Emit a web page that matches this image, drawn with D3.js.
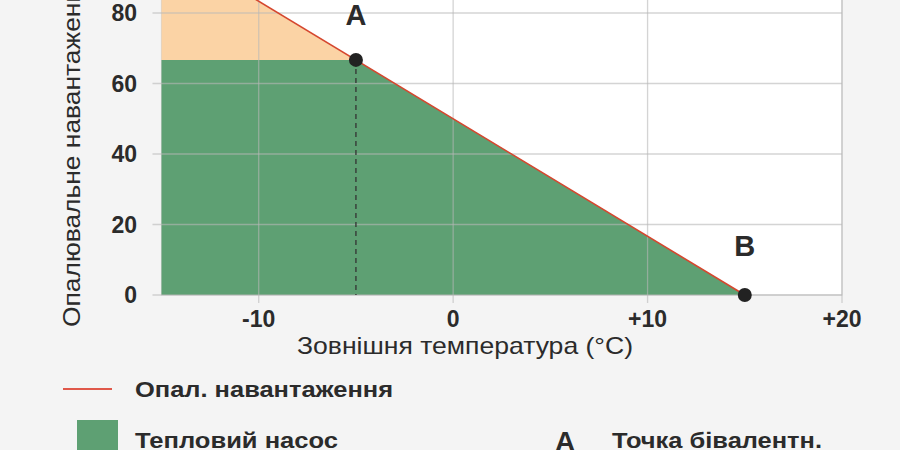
<!DOCTYPE html>
<html>
<head>
<meta charset="utf-8">
<script src="https://cdn.jsdelivr.net/npm/d3@7"></script>
<style>
  html, body { margin: 0; padding: 0; background: #f4f4f4; }
  svg { display: block; font-family: "Liberation Sans", Arial, sans-serif; }
</style>
</head>
<body>
<svg id="chart" width="900" height="450"></svg>
<script>
// ---- data ----
const xTicks = [-10, 0, 10, 20];
const xTickLabels = ["-10", "0", "+10", "+20"];
const yTicks = [0, 20, 40, 60, 80, 100];
const loadTemps = [-15, 15];
const loadValues = [100, 0];
const pumpTemps = [-15, -5, 15];
const pumpValues = [66.7, 66.7, 0];
const backupTemps = [-15, -5];
const backupUpper = [100, 66.7];
const backupLower = [66.7, 66.7];
const pointNames = ["A", "B"];
const pointTemps = [-5, 15];
const pointValues = [66.7, 0];
const xTitle = "Зовнішня температура (°C)";
const yTitle = "Опалювальне навантаження (%)";
const legendLabels = ["Опал. навантаження", "Тепловий насос", "Точка бівалентн."];

// ---- layout ----
const svg = d3.select("#chart");
const x = d3.scaleLinear().domain([-15, 20]).range([161.5, 842]);
const y = d3.scaleLinear().domain([0, 100]).range([295, -57.5]);
const txt = "#2b2b2b";
const green = "#5ea073", orange = "#fbd3a5", red = "#d5472f";

// plot background
svg.append("rect").attr("x", x(-15)).attr("y", y(100))
  .attr("width", x(20) - x(-15)).attr("height", y(0) - y(100))
  .attr("fill", "#fff").attr("stroke", "#d2d2d2").attr("stroke-width", 1.2);

// areas
const backupData = backupTemps.map((t, i) => ({t, hi: backupUpper[i], lo: backupLower[i]}));
svg.append("path").datum(backupData)
  .attr("d", d3.area().x(d => x(d.t)).y0(d => y(d.lo)).y1(d => y(d.hi)))
  .attr("fill", orange);
const pumpData = pumpTemps.map((t, i) => ({t, v: pumpValues[i]}));
svg.append("path").datum(pumpData)
  .attr("d", d3.area().x(d => x(d.t)).y0(y(0)).y1(d => y(d.v)))
  .attr("fill", green);

// grid + ticks (drawn on top, semi-transparent)
const grid = svg.append("g").attr("stroke", "#b8b8b8").attr("stroke-opacity", 0.6).attr("stroke-width", 1.3);
grid.selectAll("line.h").data(yTicks).join("line")
  .attr("x1", x(-15) - 9).attr("x2", x(20)).attr("y1", d => y(d)).attr("y2", d => y(d));
grid.selectAll("line.v").data(xTicks).join("line")
  .attr("y1", y(100)).attr("y2", y(0) + 8).attr("x1", d => x(d)).attr("x2", d => x(d));

// dashed line from A
svg.append("line").attr("x1", x(pointTemps[0])).attr("x2", x(pointTemps[0]))
  .attr("y1", y(pointValues[0])).attr("y2", y(0))
  .attr("stroke", "#333").attr("stroke-width", 1.3).attr("stroke-dasharray", "5,4");

// load line
const loadData = loadTemps.map((t, i) => ({t, v: loadValues[i]}));
svg.append("path").datum(loadData)
  .attr("d", d3.line().x(d => x(d.t)).y(d => y(d.v)))
  .attr("fill", "none").attr("stroke", red).attr("stroke-width", 1.6);

// points
pointNames.forEach((n, i) => {
  svg.append("circle").attr("cx", x(pointTemps[i])).attr("cy", y(pointValues[i]))
    .attr("r", 7).attr("fill", "#222");
});
svg.append("text").attr("x", x(pointTemps[0])).attr("y", 25).attr("text-anchor", "middle")
  .attr("font-size", 29).attr("font-weight", "bold").attr("fill", txt).text(pointNames[0]);
svg.append("text").attr("x", x(pointTemps[1])).attr("y", 256).attr("text-anchor", "middle")
  .attr("font-size", 29).attr("font-weight", "bold").attr("fill", txt).text(pointNames[1]);

// axis labels
svg.selectAll("text.yt").data(yTicks).join("text").attr("class", "yt")
  .attr("x", 137).attr("y", d => y(d)).attr("dy", "0.35em").attr("text-anchor", "end")
  .attr("font-size", 23).attr("font-weight", "bold").attr("fill", txt).text(d => d);
svg.selectAll("text.xt").data(xTicks).join("text").attr("class", "xt")
  .attr("x", d => x(d)).attr("y", 327).attr("text-anchor", "middle")
  .attr("font-size", 23).attr("font-weight", "bold").attr("fill", txt)
  .text((d, i) => xTickLabels[i]);

// titles
svg.append("text").attr("x", 297).attr("y", 354)
  .attr("font-size", 24).attr("fill", txt)
  .attr("textLength", 336).attr("lengthAdjust", "spacingAndGlyphs").text(xTitle);
svg.append("text").attr("transform", "translate(80,327) rotate(-90) scale(1.1,1)")
  .attr("text-anchor", "start").attr("font-size", 24).attr("fill", txt).text(yTitle);

// legend
svg.append("line").attr("x1", 63).attr("x2", 112).attr("y1", 389).attr("y2", 389)
  .attr("stroke", "#e0584a").attr("stroke-width", 2);
svg.append("text").attr("x", 135).attr("y", 397).attr("font-size", 22.5).attr("font-weight", "bold")
  .attr("fill", txt).attr("textLength", 258).attr("lengthAdjust", "spacingAndGlyphs").text(legendLabels[0]);
svg.append("rect").attr("x", 77).attr("y", 420).attr("width", 41).attr("height", 41).attr("fill", green);
svg.append("text").attr("x", 135).attr("y", 448).attr("font-size", 22.5).attr("font-weight", "bold")
  .attr("fill", txt).attr("textLength", 203).attr("lengthAdjust", "spacingAndGlyphs").text(legendLabels[1]);
svg.append("text").attr("x", 565).attr("y", 451).attr("text-anchor", "middle").attr("font-size", 28)
  .attr("font-weight", "bold").attr("fill", txt).text(pointNames[0]);
svg.append("text").attr("x", 612).attr("y", 448).attr("font-size", 22.5).attr("font-weight", "bold")
  .attr("fill", txt).attr("textLength", 210).attr("lengthAdjust", "spacingAndGlyphs").text(legendLabels[2]);
</script>
</body>
</html>
